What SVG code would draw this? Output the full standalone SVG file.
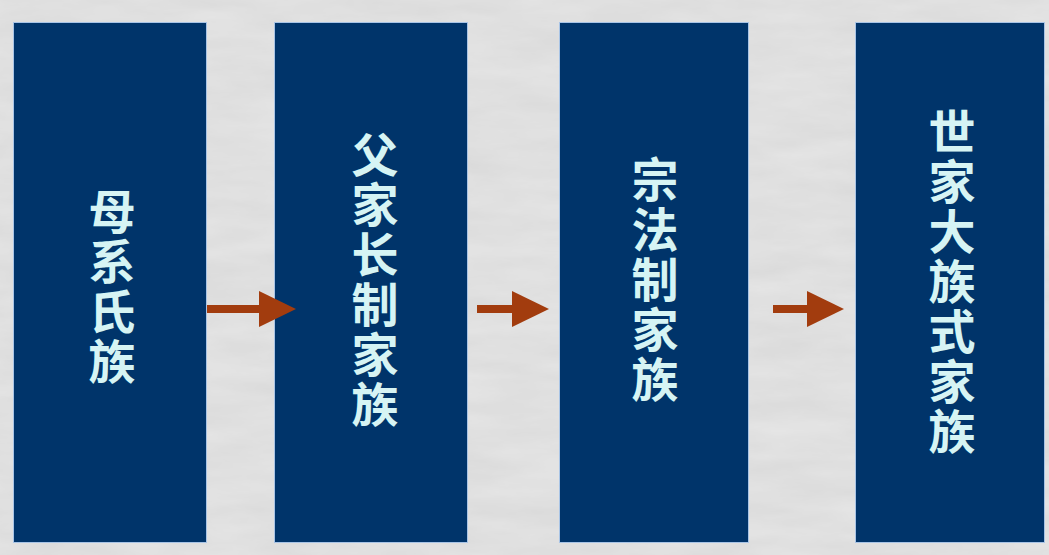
<svg xmlns="http://www.w3.org/2000/svg" width="1049" height="555" viewBox="0 0 1049 555">
  <defs>
    <filter id="paper" x="0" y="0" width="100%" height="100%">
      <feTurbulence type="fractalNoise" baseFrequency="0.012 0.05" numOctaves="4" seed="3" result="n"/>
      <feColorMatrix in="n" type="matrix" values="0 0 0 0 0.5  0 0 0 0 0.5  0 0 0 0 0.5  0 0 0 0.3 0"/>
    </filter>
    <marker id="head" markerUnits="userSpaceOnUse" markerWidth="40" markerHeight="40" refX="1" refY="18" orient="auto">
      <path d="M0,0 L37,18 L0,36 z" fill="#a23c0e"/>
    </marker>
  </defs>
  <style>
    .box { fill: #00346a; stroke: #a8c4e6; stroke-width: 1; }
    .lbl { font-family: "Noto Sans CJK SC", "Noto Sans CJK TC", sans-serif; font-size: 47px; font-weight: bold; fill: #d6f4f4; text-anchor: middle; writing-mode: vertical-rl; letter-spacing: 3px; }
    .arrow { stroke: #a23c0e; stroke-width: 8; fill: none; }
  </style>
  <rect x="0" y="0" width="1049" height="555" fill="#e6e6e6"/>
  <rect x="0" y="0" width="1049" height="555" filter="url(#paper)"/>

  <g id="node1">
    <rect class="box" x="13.5" y="22.5" width="193" height="520"/>
    <text class="lbl" x="112" y="288">母系氏族</text>
  </g>
  <g id="node2">
    <rect class="box" x="274.5" y="22.5" width="193" height="520"/>
    <text class="lbl" x="375" y="281">父家长制家族</text>
  </g>
  <g id="node3">
    <rect class="box" x="559.5" y="22.5" width="189" height="520"/>
    <text class="lbl" x="655" y="281">宗法制家族</text>
  </g>
  <g id="node4">
    <rect class="box" x="855.5" y="22.5" width="189" height="520"/>
    <text class="lbl" x="952" y="283">世家大族式家族</text>
  </g>

  <g id="connectors">
    <line class="arrow" x1="207" y1="309" x2="260" y2="309" marker-end="url(#head)"/>
    <line class="arrow" x1="477" y1="309" x2="513" y2="309" marker-end="url(#head)"/>
    <line class="arrow" x1="773" y1="309" x2="808" y2="309" marker-end="url(#head)"/>
  </g>
</svg>
